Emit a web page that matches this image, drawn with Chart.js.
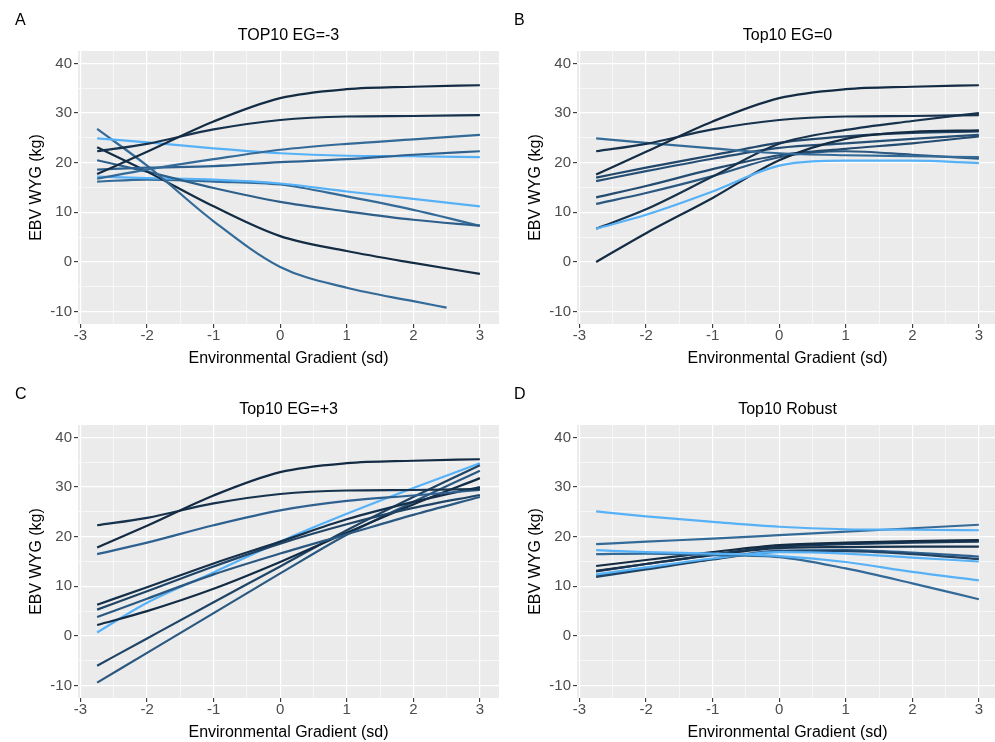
<!DOCTYPE html>
<html>
<head>
<meta charset="utf-8">
<script src="https://cdn.jsdelivr.net/npm/chart.js@4.4.1/dist/chart.umd.min.js"></script>
<style>
  html, body { margin: 0; padding: 0; background: #fff; overflow: hidden; width: 995px; height: 742px; }
  .panel { position: absolute; width: 500px; height: 368px; }
  .panel canvas { display: block; }
  .tag { position: absolute; left: 15px; top: 11px; font: 16px "Liberation Sans", Arial, sans-serif; color: #000; }
</style>
</head>
<body>
<div class="panel" style="left:0;top:0"><canvas id="chartA" width="500" height="368"></canvas><div class="tag">A</div></div>
<div class="panel" style="left:499px;top:0"><canvas id="chartB" width="500" height="368"></canvas><div class="tag">B</div></div>
<div class="panel" style="left:0;top:374px"><canvas id="chartC" width="500" height="368"></canvas><div class="tag">C</div></div>
<div class="panel" style="left:499px;top:374px"><canvas id="chartD" width="500" height="368"></canvas><div class="tag">D</div></div>

<script>
const XS = [-2.75, -2, -1, 0, 1, 2, 3];
const XS_SHORT = [-2.75, -2, -1, 0, 1, 2, 2.5];

const X_TICKS = [-3, -2, -1, 0, 1, 2, 3];
const Y_TICKS = [-10, 0, 10, 20, 30, 40];

// Panel A: TOP10 EG=-3
const A_Y = [
  [17.7, 22.2, 28.3, 33.0, 34.8, 35.3, 35.6],
  [22.3, 23.8, 26.7, 28.6, 29.3, 29.4, 29.6],
  [16.8, 18.6, 20.7, 22.6, 23.8, 24.7, 25.6],
  [18.6, 19.0, 19.3, 20.1, 20.7, 21.6, 22.3],
  [24.9, 24.1, 22.9, 21.9, 21.4, 21.3, 21.1],
  [26.8, 19.4, 8.2, -1.0, -5.2, -7.9, -9.2],
  [23.1, 18.2, 11.2, 5.2, 2.2, -0.2, -2.4],
  [20.5, 18.2, 14.9, 12.1, 10.2, 8.5, 7.3],
  [17.2, 16.9, 16.6, 15.8, 14.2, 12.7, 11.2],
  [16.2, 16.6, 16.2, 15.6, 13.2, 10.5, 7.3],
];
const A_COLORS = ["#132B43", "#17324D", "#336A98", "#2E6190", "#56B1F7",
                  "#336A98", "#132B43", "#2D5F8A", "#56B1F7", "#336A98"];
const A_SHORT = [5];

// Panel B: Top10 EG=0
const B_Y = [
  [17.6, 22.2, 28.3, 33.0, 34.8, 35.3, 35.6],
  [22.3, 23.8, 26.7, 28.6, 29.3, 29.4, 29.6],
  [24.9, 24.0, 22.9, 21.9, 21.5, 21.3, 21.1],
  [6.7, 9.5, 14.2, 19.4, 20.4, 20.4, 19.9],
  [0.0, 5.8, 12.9, 20.5, 24.8, 26.2, 26.5],
  [6.7, 10.6, 17.2, 23.8, 26.6, 28.4, 30.0],
  [17.0, 19.0, 21.5, 24.0, 25.3, 26.0, 26.3],
  [16.3, 18.3, 20.8, 23.0, 23.9, 24.8, 25.6],
  [13.0, 15.3, 18.7, 21.5, 22.8, 23.9, 25.3],
  [11.7, 13.9, 17.3, 21.1, 22.3, 21.6, 20.8],
];
const B_COLORS = ["#132B43", "#17324D", "#336A98", "#56B1F7", "#132B43",
                  "#17324D", "#21476A", "#264F75", "#244B70", "#2A5880"];

// Panel C: Top10 EG=+3
const C_Y = [
  [17.8, 22.2, 28.3, 33.0, 34.8, 35.3, 35.6],
  [22.3, 23.8, 26.7, 28.6, 29.3, 29.4, 29.6],
  [16.5, 18.8, 22.3, 25.3, 27.2, 28.3, 29.4],
  [6.3, 9.8, 14.6, 19.0, 23.5, 27.0, 30.0],
  [5.3, 9.0, 14.0, 18.6, 22.5, 25.8, 28.4],
  [3.8, 7.5, 12.4, 16.6, 20.5, 24.4, 28.0],
  [2.2, 5.0, 9.5, 14.9, 20.8, 26.5, 31.8],
  [-6.0, -0.5, 6.8, 14.0, 21.3, 28.0, 34.4],
  [-9.4, -3.4, 4.6, 12.6, 20.4, 27.0, 33.3],
  [0.7, 6.7, 12.8, 19.0, 24.6, 29.8, 34.8],
];
const C_COLORS = ["#132B43", "#17324D", "#2E6190", "#15304A", "#1F4466",
                  "#2A5880", "#132B43", "#1F4466", "#2A5880", "#56B1F7"];

// Panel D: Top10 Robust
const D_Y = [
  [25.1, 24.1, 23.0, 22.0, 21.5, 21.4, 21.3],
  [18.5, 19.0, 19.6, 20.3, 21.0, 21.7, 22.4],
  [17.3, 16.9, 16.6, 16.1, 14.9, 12.9, 11.2],
  [16.5, 16.6, 16.3, 15.9, 13.6, 10.6, 7.4],
  [14.1, 15.3, 16.9, 18.3, 18.8, 19.1, 19.3],
  [13.1, 14.5, 16.3, 17.7, 17.9, 18.0, 18.0],
  [12.4, 13.8, 15.6, 16.9, 16.6, 15.8, 15.0],
  [11.9, 13.4, 15.4, 17.0, 17.1, 16.5, 15.5],
  [12.1, 13.6, 15.5, 17.2, 17.3, 16.8, 16.0],
  [13.0, 14.5, 16.4, 18.0, 18.5, 18.8, 19.0],
];
const D_COLORS = ["#56B1F7", "#336A98", "#56B1F7", "#336A98", "#132B43",
                  "#17324D", "#56B1F7", "#1F4466", "#2E6190", "#1A3A5A"];

const FONT = "'Liberation Sans', Arial, sans-serif";

const panelBg = {
  id: "panelBg",
  beforeDraw(chart) {
    const { ctx, chartArea: a } = chart;
    ctx.save();
    ctx.fillStyle = "#EBEBEB";
    ctx.fillRect(a.left, a.top, a.right - a.left, a.bottom - a.top);
    ctx.restore();
  },
};

// majors plus the half-way minors, like ggplot's grid
function withMinors(majors) {
  const out = [];
  majors.forEach((v, i) => {
    out.push(v);
    if (i < majors.length - 1) out.push((v + majors[i + 1]) / 2);
  });
  return out;
}

function gridFor(majors) {
  const isMajor = (ctx) => ctx.tick && majors.includes(ctx.tick.value);
  return {
    color: "#FFFFFF",
    lineWidth: (ctx) => (isMajor(ctx) ? 1.2 : 0.6),
    tickColor: (ctx) => (isMajor(ctx) ? "#333333" : "rgba(0,0,0,0)"),
    tickWidth: (ctx) => (isMajor(ctx) ? 1.1 : 0),
    tickLength: 4,
    drawTicks: true,
  };
}

function makeChart(id, title, ys, colors, shortIdx = []) {
  const datasets = ys.map((row, i) => {
    const xs = shortIdx.includes(i) ? XS_SHORT : XS;
    return {
      data: xs.map((x, j) => ({ x, y: row[j] })),
      borderColor: colors[i],
      borderWidth: 2.2,
      pointRadius: 0,
      fill: false,
      cubicInterpolationMode: "monotone",
    };
  });

  return new Chart(document.getElementById(id), {
    type: "line",
    data: { datasets },
    plugins: [panelBg],
    options: {
      responsive: false,
      animation: false,
      events: [],
      layout: { padding: { left: 0, right: 1, top: 0, bottom: 0 } },
      plugins: {
        legend: { display: false },
        tooltip: { enabled: false },
        title: {
          display: true,
          text: title,
          fullSize: false,
          color: "#000000",
          font: { family: FONT, size: 16, weight: "normal", lineHeight: 1.2 },
          padding: { top: 26, bottom: 5.8 },
        },
      },
      scales: {
        x: {
          type: "linear",
          min: -3.0375,
          max: 3.2875,
          afterBuildTicks: (scale) => {
            scale.ticks = withMinors(X_TICKS).map((v) => ({ value: v }));
          },
          afterFit: (scale) => { scale.height = 44; },
          border: { display: false },
          grid: gridFor(X_TICKS),
          ticks: {
            autoSkip: false,
            maxRotation: 0,
            padding: 0,
            color: "#4D4D4D",
            font: { family: FONT, size: 15, lineHeight: 1 },
            callback: (v) => (X_TICKS.includes(v) ? String(v) : ""),
          },
          title: {
            display: true,
            text: "Environmental Gradient (sd)",
            color: "#000000",
            font: { family: FONT, size: 16, lineHeight: 1.2 },
            padding: { top: 0, bottom: 0 },
          },
        },
        y: {
          type: "linear",
          min: -12.5,
          max: 42.5,
          afterBuildTicks: (scale) => {
            scale.ticks = withMinors(Y_TICKS).map((v) => ({ value: v }));
          },
          afterFit: (scale) => { scale.width = 78; },
          border: { display: false },
          grid: gridFor(Y_TICKS),
          ticks: {
            autoSkip: false,
            padding: 2,
            color: "#4D4D4D",
            font: { family: FONT, size: 15 },
            callback: (v) => (Y_TICKS.includes(v) ? String(v) : ""),
          },
          title: {
            display: true,
            text: "EBV WYG (kg)",
            color: "#000000",
            font: { family: FONT, size: 16, lineHeight: 1.2 },
            padding: { top: 27, bottom: 0 },
          },
        },
      },
    },
  });
}

makeChart("chartA", "TOP10 EG=-3", A_Y, A_COLORS, A_SHORT);
makeChart("chartB", "Top10 EG=0", B_Y, B_COLORS);
makeChart("chartC", "Top10 EG=+3", C_Y, C_COLORS);
makeChart("chartD", "Top10 Robust", D_Y, D_COLORS);
</script>
</body>
</html>
